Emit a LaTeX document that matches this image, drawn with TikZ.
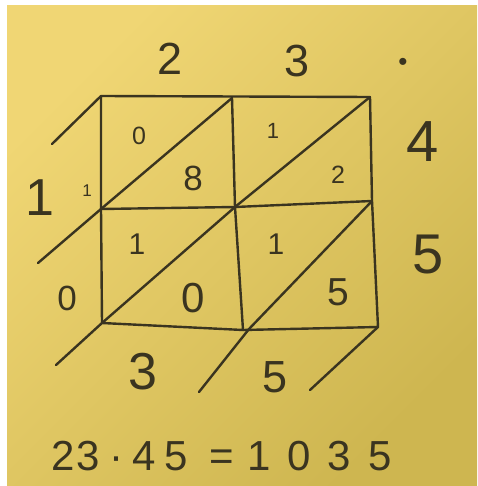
\documentclass[tikz,border=0pt]{standalone}
\usepackage{fontspec}
\setmainfont{Liberation Sans}
\newcommand\fsz[1]{\fontsize{#1}{#1}\selectfont}
\definecolor{ink}{RGB}{58,52,32}
\definecolor{paperlight}{RGB}{240,214,116}
\definecolor{papermid}{RGB}{230,205,104}
\definecolor{paperdark}{RGB}{206,182,80}
\begin{document}
\begin{tikzpicture}[x=1pt,y=-1pt,
  pen/.style={draw=ink,line width=2.4pt,line cap=round,line join=round},
  lab/.style={text=ink,inner sep=0pt,anchor=center}]
\useasboundingbox (0,0) rectangle (477,486);
\fill[white] (0,0) rectangle (477,486);
\shade[top color=paperlight,middle color=papermid,bottom color=paperdark,shading angle=45] (7,6) rectangle (477,486);
% grid corners
\coordinate (TL) at (101,96);
\coordinate (TM) at (232,98);
\coordinate (TR) at (370,97);
\coordinate (ML) at (101,209);
\coordinate (MM) at (235,207);
\coordinate (MR) at (372,201);
\coordinate (BL) at (102,323);
\coordinate (BM) at (243,330);
\coordinate (BR) at (378,327);
\coordinate (BX) at (249,329);
% free ends of diagonals
\coordinate (E1) at (52,144);
\coordinate (E2) at (38,263);
\coordinate (E3) at (56,365);
\coordinate (E4) at (199,392);
\coordinate (E5) at (310,390);
% frame and inner lines
\draw[pen] (TL) -- (TR) -- (MR) -- (BR) -- (BM) -- (BL) -- (ML) -- cycle;
\draw[pen] (TM) -- (MM) -- (BM);
\draw[pen] (ML) -- (MM) -- (MR);
% diagonals
\draw[pen] (E1) -- (TL);
\draw[pen] (TM) -- (ML) -- (E2);
\draw[pen] (TR) -- (MM) -- (BL) -- (E3);
\draw[pen] (MR) -- (BX) -- (E4);
\draw[pen] (BR) -- (E5);
% factors
\node[lab,font=\fsz{45}] (a2) at (170,59) {2};
\node[lab,font=\fsz{45}] (a3) at (297,61) {3};
\node[lab,font=\fsz{26}] (adot) at (403,64) {•};
\node[lab,font=\fsz{58}] (b4) at (423,142) {4};
\node[lab,font=\fsz{56}] (b5) at (428,255) {5};
% cell digits
\node[lab,font=\fsz{25}] (c1) at (139,136) {0};
\node[lab,font=\fsz{35}] (c2) at (193,178) {8};
\node[lab,font=\fsz{22}] (c3) at (273,131) {1};
\node[lab,font=\fsz{25}] (c4) at (338,175) {2};
\node[lab,font=\fsz{30}] (c5) at (137,244) {1};
\node[lab,font=\fsz{42}] (c6) at (193,298) {0};
\node[lab,font=\fsz{30}] (c7) at (276,244) {1};
\node[lab,font=\fsz{39}] (c8) at (338,292) {5};
% carries and result digits
\node[lab,font=\fsz{17}] (r0) at (87,191) {1};
\node[lab,font=\fsz{52}] (r1) at (40,198) {1};
\node[lab,font=\fsz{35}] (r2) at (67,298) {0};
\node[lab,font=\fsz{52}] (r3) at (143,372) {3};
\node[lab,font=\fsz{45}] (r4) at (275,377) {5};
% equation
\node[lab,anchor=west,font=\fsz{42}] (eq) at (51,456)
  {2\kern2pt3\kern10pt·\kern9pt4\kern8pt5\kern22pt=\kern13pt1\kern17pt0\kern17pt3\kern17pt5};
\end{tikzpicture}
\end{document}
